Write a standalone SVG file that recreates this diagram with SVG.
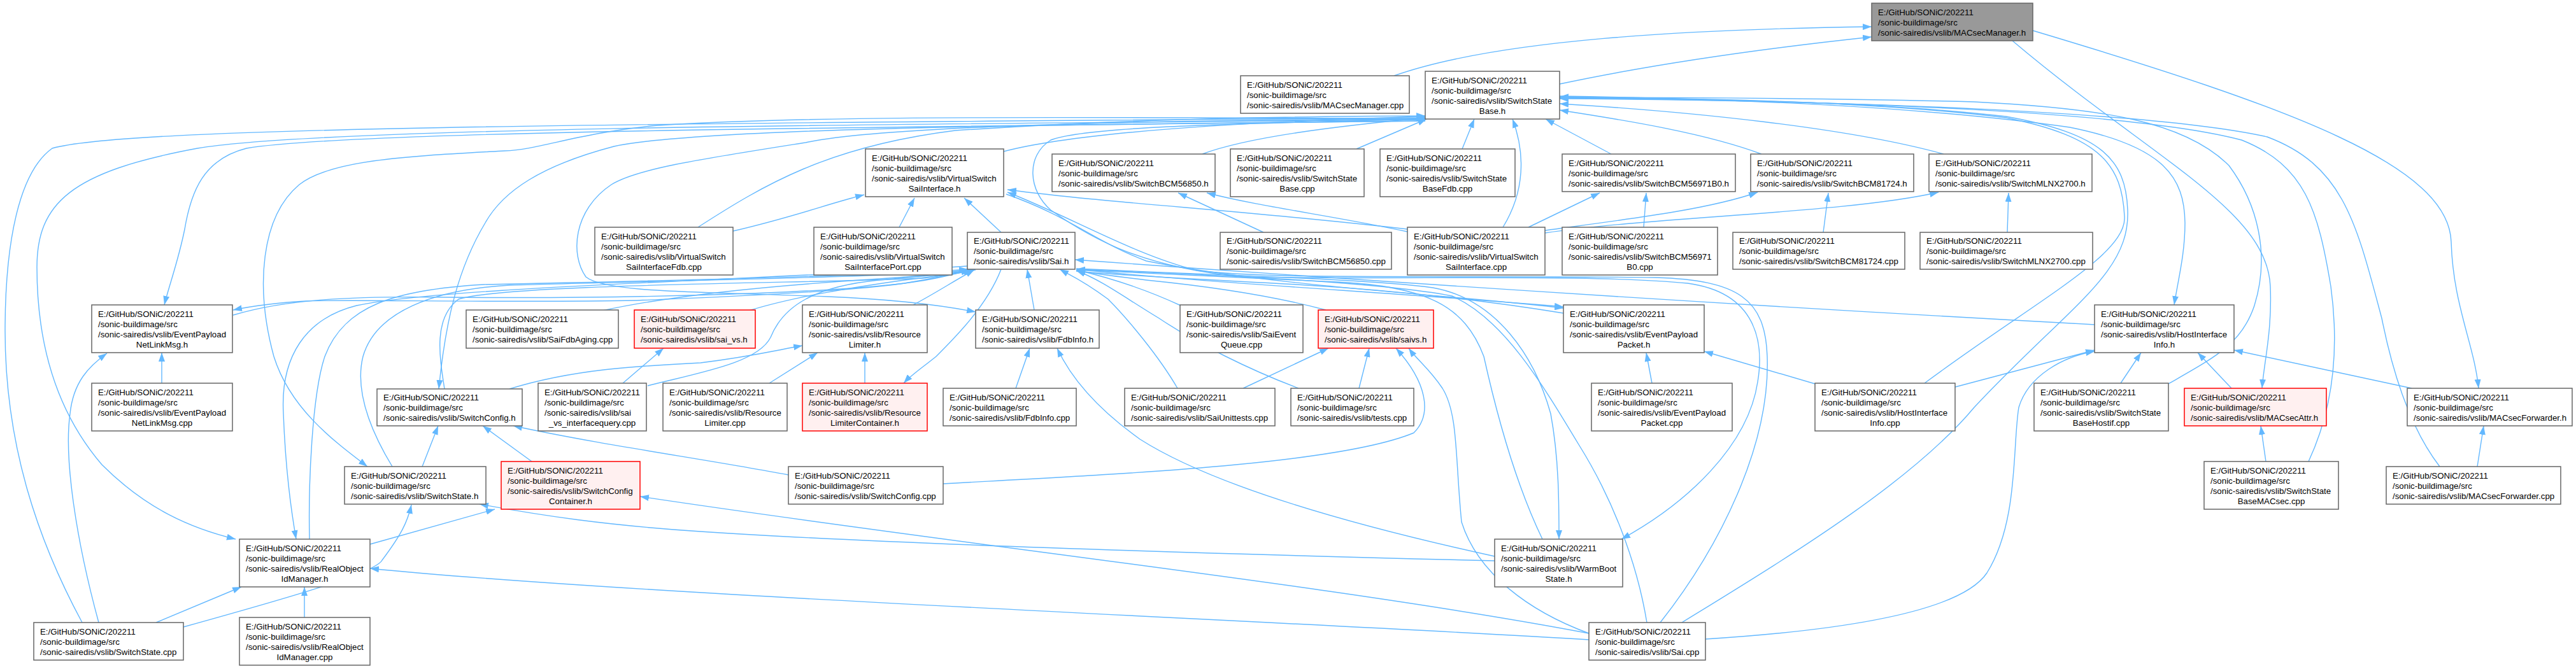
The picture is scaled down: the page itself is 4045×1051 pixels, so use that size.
<svg xmlns="http://www.w3.org/2000/svg" width="4045" height="1051" viewBox="0 0 4045 1051">
<style>
.node rect{fill:#ffffff;stroke:#666666;stroke-width:1.5}
.node.red rect{fill:#fff0f0;stroke:#ff0000}
.node.root rect{fill:#999999;stroke:#666666}
text{font-family:"Liberation Sans",Arial,Helvetica,sans-serif;font-size:13.3px;fill:#000000}
.c{text-anchor:middle}
.edges path{fill:none;stroke:#63b8ff;stroke-width:1.4;marker-end:url(#arr)}
</style>
<defs>
<marker id="arr" viewBox="0 0 14 10" refX="14" refY="5" markerWidth="14" markerHeight="10" markerUnits="userSpaceOnUse" orient="auto">
<path d="M0,0 L14,5 L0,10 z" fill="#63b8ff"/>
</marker>
</defs>
<rect width="4045" height="1051" fill="#ffffff"/>
<g id="edges" class="edges">
<path d="M2189,119 C2350,62 2650,46 2939,42"/>
<path d="M2449,132 C2600,100 2780,75 2939,58"/>
<path d="M3160,64 C3380,250 3560,330 3565,450 C3568,520 3555,570 3552,610"/>
<path d="M3192,48 C3600,170 3845,260 3849,380 C3852,480 3885,540 3892,610"/>
<path d="M3022,602 C3200,470 3340,400 3336,340 C3332,260 3300,215 3150,185 C2950,160 2700,155 2449,152"/>
<path d="M2641,978 C2800,880 3000,760 3100,640 C3250,480 3345,430 3341,330 C3338,250 3300,210 3150,183 C2950,160 2700,156 2449,153"/>
<path d="M2449,151 C2700,155 3000,165 3250,200 C3400,230 3430,280 3431,350 C3431,400 3420,440 3414,479"/>
<path d="M3405,603 C3480,560 3520,540 3540,480 C3565,400 3545,320 3500,260 C3430,190 3300,170 3100,160 C2900,155 2700,153 2449,153"/>
<path d="M3625,725 C3660,650 3675,560 3660,450 C3640,330 3620,260 3520,220 C3350,175 2900,158 2449,154"/>
<path d="M3831,733 C3790,680 3760,600 3740,500 C3700,350 3680,260 3560,215 C3380,175 2900,158 2449,155"/>
<path d="M2766,242 C2680,210 2560,190 2449,173"/>
<path d="M3052,242 C2900,200 2650,175 2449,163"/>
<path d="M2530,242 L2427,187"/>
<path d="M2360,357 C2395,300 2395,240 2375,187"/>
<path d="M2296,234 L2315,187"/>
<path d="M2130,234 L2240,187"/>
<path d="M1888,242 C1960,215 2100,198 2238,185"/>
<path d="M1576,238 C1700,205 2000,190 2238,183"/>
<path d="M1096,357 C1200,290 1300,230 1500,205 C1800,185 2050,183 2238,182"/>
<path d="M129,978 C60,850 8,700 8,520 C8,380 30,270 82,233 C200,200 900,195 2238,185"/>
<path d="M155,978 C120,850 100,720 110,650 C115,600 140,575 168,555"/>
<path d="M288,985 C450,940 590,900 600,880 C630,840 640,820 646,793"/>
<path d="M245,978 L379,922"/>
<path d="M2238,188 C1400,195 500,200 310,233 C110,270 58,320 58,420 C58,560 100,660 160,730 C230,800 300,830 370,847"/>
<path d="M2238,190 C1400,200 550,205 387,233 C320,250 300,300 290,360 C280,410 265,450 258,479"/>
<path d="M2238,190 C1700,195 1100,200 964,230 C850,260 790,300 762,350 C720,420 700,500 689,611"/>
<path d="M2238,186 C1700,185 1300,180 1033,197 C900,210 850,235 792,237 C650,245 520,250 470,290 C410,340 400,450 430,560 C455,640 520,690 577,733"/>
<path d="M2238,187 C1900,188 1400,195 1265,224 C1100,250 1000,265 960,290 C900,330 895,400 920,435 C950,460 1100,458 1300,466 C1400,470 1470,478 1532,490"/>
<path d="M2238,187 C1900,195 1700,200 1650,220 C1610,245 1615,300 1650,330 C1720,380 1800,420 1950,435 C2200,440 2500,430 2650,445 C2760,460 2770,540 2760,600 C2745,700 2650,790 2546,847"/>
<path d="M2607,978 C2700,860 2780,700 2775,560 C2772,470 2730,440 2600,436 C2300,432 2000,440 1880,425 C1780,400 1680,340 1582,302"/>
<path d="M2210,360 C1950,330 1750,320 1582,298"/>
<path d="M1412,357 L1436,311"/>
<path d="M1572,365 L1514,311"/>
<path d="M1151,363 C1250,340 1300,320 1357,306"/>
<path d="M1984,365 L1850,303"/>
<path d="M2210,364 C2100,340 1980,325 1895,303"/>
<path d="M2400,357 L2512,303"/>
<path d="M2581,357 L2585,303"/>
<path d="M2426,362 C2550,345 2680,330 2760,302"/>
<path d="M2863,365 L2871,303"/>
<path d="M2426,366 C2600,340 2900,335 3044,302"/>
<path d="M3152,365 L3154,303"/>
<path d="M946,488 C1050,465 1200,450 1350,440 C1430,435 1490,430 1525,424"/>
<path d="M1176,488 C1250,465 1350,450 1420,440 C1470,434 1500,430 1527,424"/>
<path d="M1017,606 C1100,585 1190,570 1210,530 C1230,480 1280,450 1380,440 C1450,434 1500,430 1528,424"/>
<path d="M1434,479 C1470,460 1500,440 1530,424"/>
<path d="M698,611 C690,560 680,500 720,470 C800,445 1300,445 1450,437 C1480,433 1505,430 1530,424"/>
<path d="M616,733 C590,690 555,620 570,560 C590,490 680,455 800,448 C1100,440 1400,435 1532,424"/>
<path d="M366,495 C450,470 550,465 700,467 C1000,470 1300,460 1420,445 C1470,437 1500,430 1523,424"/>
<path d="M1522,423 C1450,450 1300,460 1000,472 C800,476 550,470 480,473 C430,476 400,480 366,487"/>
<path d="M1519,418 C1200,440 700,450 560,480 C480,500 440,560 445,650 C448,730 455,790 465,847"/>
<path d="M486,847 C484,760 490,620 510,560 C540,480 620,455 760,447 C1100,440 1400,432 1520,423"/>
<path d="M1572,423 C1550,480 1500,530 1470,560 C1445,580 1430,590 1419,602"/>
<path d="M1624,487 L1613,423"/>
<path d="M1849,610 C1820,560 1770,500 1740,470 C1700,440 1680,432 1664,423"/>
<path d="M1854,480 C1800,455 1750,438 1690,424"/>
<path d="M2082,487 C2000,465 1900,450 1800,440 C1750,434 1720,430 1690,425"/>
<path d="M2039,610 C1960,580 1880,540 1820,500 C1770,470 1730,440 1690,425"/>
<path d="M3289,510 C2700,478 2200,445 1688,408"/>
<path d="M1690,423 C1900,445 2200,460 2455,482"/>
<path d="M1580,305 C1680,340 1720,380 1800,410 C2000,450 2300,465 2455,484"/>
<path d="M2455,492 C2350,475 2200,455 2000,445 C1850,437 1750,432 1690,426"/>
<path d="M1690,422 C1900,432 2150,438 2250,452 C2350,470 2410,560 2435,650 C2448,720 2448,790 2448,847"/>
<path d="M2422,847 C2380,760 2350,650 2330,560 C2300,480 2240,450 2100,443 C1950,436 1800,430 1690,424"/>
<path d="M2586,978 C2570,880 2530,780 2480,700 C2420,600 2360,500 2280,465 C2150,440 1850,430 1690,423"/>
<path d="M2495,995 C2400,960 2320,900 2295,820 C2285,720 2290,650 2265,610 C2245,580 2225,565 2212,547"/>
<path d="M2495,995 C2100,920 1500,855 1005,780"/>
<path d="M2495,1005 C2000,975 1000,935 581,893"/>
<path d="M2678,1004 C2900,990 3080,960 3120,900 C3170,820 3160,700 3170,640 C3185,590 3240,560 3289,552"/>
<path d="M1238,746 C1100,720 950,700 806,669"/>
<path d="M835,725 L758,669"/>
<path d="M663,733 L688,669"/>
<path d="M1481,760 C1750,745 2100,730 2220,680 C2250,650 2240,600 2192,547"/>
<path d="M581,855 L777,800"/>
<path d="M478,970 L478,922"/>
<path d="M254,602 L254,554"/>
<path d="M978,602 L1042,547"/>
<path d="M1208,602 L1284,554"/>
<path d="M1358,602 L1358,554"/>
<path d="M800,611 C900,580 1000,575 1100,570 C1180,560 1220,550 1260,543"/>
<path d="M1595,610 L1617,547"/>
<path d="M2347,874 C2100,820 1900,760 1790,690 C1720,640 1680,590 1660,547"/>
<path d="M2347,881 C1900,870 1400,855 1100,835 C950,825 850,810 753,792"/>
<path d="M1952,610 L2086,547"/>
<path d="M2134,610 L2150,547"/>
<path d="M2594,602 L2585,554"/>
<path d="M2850,603 L2676,552"/>
<path d="M3070,608 L3289,550"/>
<path d="M3330,602 L3362,554"/>
<path d="M3504,610 L3451,554"/>
<path d="M3787,610 L3508,550"/>
<path d="M3558,725 L3550,669"/>
<path d="M3890,733 L3900,669"/>
</g>
<g id="n_MACsecManager_h" class="node root"><rect x="2939" y="5" width="253" height="59"/><text><tspan x="2949" y="23.5">E:/GitHub/SONiC/202211</tspan><tspan x="2949" y="39.5">/sonic-buildimage/src</tspan><tspan x="2949" y="55.5">/sonic-sairedis/vslib/MACsecManager.h</tspan></text></g>
<g id="n_MACsecManager_cpp" class="node"><rect x="1948" y="119" width="265" height="59"/><text><tspan x="1958" y="137.5">E:/GitHub/SONiC/202211</tspan><tspan x="1958" y="153.5">/sonic-buildimage/src</tspan><tspan x="1958" y="169.5">/sonic-sairedis/vslib/MACsecManager.cpp</tspan></text></g>
<g id="n_SwitchStateBase_h" class="node"><rect x="2238" y="112" width="211" height="75"/><text><tspan x="2248" y="130.5">E:/GitHub/SONiC/202211</tspan><tspan x="2248" y="146.5">/sonic-buildimage/src</tspan><tspan x="2248" y="162.5">/sonic-sairedis/vslib/SwitchState</tspan><tspan class="c" x="2343.5" y="178.5">Base.h</tspan></text></g>
<g id="n_VirtualSwitchSaiInterface_h" class="node"><rect x="1359" y="234" width="217" height="75"/><text><tspan x="1369" y="252.5">E:/GitHub/SONiC/202211</tspan><tspan x="1369" y="268.5">/sonic-buildimage/src</tspan><tspan x="1369" y="284.5">/sonic-sairedis/vslib/VirtualSwitch</tspan><tspan class="c" x="1467.5" y="300.5">SaiInterface.h</tspan></text></g>
<g id="n_SwitchBCM56850_h" class="node"><rect x="1652" y="242" width="256" height="59"/><text><tspan x="1662" y="260.5">E:/GitHub/SONiC/202211</tspan><tspan x="1662" y="276.5">/sonic-buildimage/src</tspan><tspan x="1662" y="292.5">/sonic-sairedis/vslib/SwitchBCM56850.h</tspan></text></g>
<g id="n_SwitchStateBase_cpp" class="node"><rect x="1932" y="234" width="210" height="75"/><text><tspan x="1942" y="252.5">E:/GitHub/SONiC/202211</tspan><tspan x="1942" y="268.5">/sonic-buildimage/src</tspan><tspan x="1942" y="284.5">/sonic-sairedis/vslib/SwitchState</tspan><tspan class="c" x="2037" y="300.5">Base.cpp</tspan></text></g>
<g id="n_SwitchStateBaseFdb_cpp" class="node"><rect x="2167" y="234" width="212" height="75"/><text><tspan x="2177" y="252.5">E:/GitHub/SONiC/202211</tspan><tspan x="2177" y="268.5">/sonic-buildimage/src</tspan><tspan x="2177" y="284.5">/sonic-sairedis/vslib/SwitchState</tspan><tspan class="c" x="2273" y="300.5">BaseFdb.cpp</tspan></text></g>
<g id="n_SwitchBCM56971B0_h" class="node"><rect x="2453" y="242" width="272" height="59"/><text><tspan x="2463" y="260.5">E:/GitHub/SONiC/202211</tspan><tspan x="2463" y="276.5">/sonic-buildimage/src</tspan><tspan x="2463" y="292.5">/sonic-sairedis/vslib/SwitchBCM56971B0.h</tspan></text></g>
<g id="n_SwitchBCM81724_h" class="node"><rect x="2749" y="242" width="256" height="59"/><text><tspan x="2759" y="260.5">E:/GitHub/SONiC/202211</tspan><tspan x="2759" y="276.5">/sonic-buildimage/src</tspan><tspan x="2759" y="292.5">/sonic-sairedis/vslib/SwitchBCM81724.h</tspan></text></g>
<g id="n_SwitchMLNX2700_h" class="node"><rect x="3029" y="242" width="256" height="59"/><text><tspan x="3039" y="260.5">E:/GitHub/SONiC/202211</tspan><tspan x="3039" y="276.5">/sonic-buildimage/src</tspan><tspan x="3039" y="292.5">/sonic-sairedis/vslib/SwitchMLNX2700.h</tspan></text></g>
<g id="n_VirtualSwitchSaiInterfaceFdb_cpp" class="node"><rect x="934" y="357" width="217" height="75"/><text><tspan x="944" y="375.5">E:/GitHub/SONiC/202211</tspan><tspan x="944" y="391.5">/sonic-buildimage/src</tspan><tspan x="944" y="407.5">/sonic-sairedis/vslib/VirtualSwitch</tspan><tspan class="c" x="1042.5" y="423.5">SaiInterfaceFdb.cpp</tspan></text></g>
<g id="n_VirtualSwitchSaiInterfacePort_cpp" class="node"><rect x="1278" y="357" width="217" height="75"/><text><tspan x="1288" y="375.5">E:/GitHub/SONiC/202211</tspan><tspan x="1288" y="391.5">/sonic-buildimage/src</tspan><tspan x="1288" y="407.5">/sonic-sairedis/vslib/VirtualSwitch</tspan><tspan class="c" x="1386.5" y="423.5">SaiInterfacePort.cpp</tspan></text></g>
<g id="n_Sai_h" class="node"><rect x="1519" y="365" width="169" height="58"/><text><tspan x="1529" y="383">E:/GitHub/SONiC/202211</tspan><tspan x="1529" y="399">/sonic-buildimage/src</tspan><tspan x="1529" y="415">/sonic-sairedis/vslib/Sai.h</tspan></text></g>
<g id="n_SwitchBCM56850_cpp" class="node"><rect x="1916" y="365" width="269" height="58"/><text><tspan x="1926" y="383">E:/GitHub/SONiC/202211</tspan><tspan x="1926" y="399">/sonic-buildimage/src</tspan><tspan x="1926" y="415">/sonic-sairedis/vslib/SwitchBCM56850.cpp</tspan></text></g>
<g id="n_VirtualSwitchSaiInterface_cpp" class="node"><rect x="2210" y="357" width="216" height="75"/><text><tspan x="2220" y="375.5">E:/GitHub/SONiC/202211</tspan><tspan x="2220" y="391.5">/sonic-buildimage/src</tspan><tspan x="2220" y="407.5">/sonic-sairedis/vslib/VirtualSwitch</tspan><tspan class="c" x="2318" y="423.5">SaiInterface.cpp</tspan></text></g>
<g id="n_SwitchBCM56971B0_cpp" class="node"><rect x="2453" y="357" width="244" height="75"/><text><tspan x="2463" y="375.5">E:/GitHub/SONiC/202211</tspan><tspan x="2463" y="391.5">/sonic-buildimage/src</tspan><tspan x="2463" y="407.5">/sonic-sairedis/vslib/SwitchBCM56971</tspan><tspan class="c" x="2575" y="423.5">B0.cpp</tspan></text></g>
<g id="n_SwitchBCM81724_cpp" class="node"><rect x="2721" y="365" width="270" height="58"/><text><tspan x="2731" y="383">E:/GitHub/SONiC/202211</tspan><tspan x="2731" y="399">/sonic-buildimage/src</tspan><tspan x="2731" y="415">/sonic-sairedis/vslib/SwitchBCM81724.cpp</tspan></text></g>
<g id="n_SwitchMLNX2700_cpp" class="node"><rect x="3015" y="365" width="271" height="58"/><text><tspan x="3025" y="383">E:/GitHub/SONiC/202211</tspan><tspan x="3025" y="399">/sonic-buildimage/src</tspan><tspan x="3025" y="415">/sonic-sairedis/vslib/SwitchMLNX2700.cpp</tspan></text></g>
<g id="n_EventPayloadNetLinkMsg_h" class="node"><rect x="144" y="479" width="221" height="75"/><text><tspan x="154" y="497.5">E:/GitHub/SONiC/202211</tspan><tspan x="154" y="513.5">/sonic-buildimage/src</tspan><tspan x="154" y="529.5">/sonic-sairedis/vslib/EventPayload</tspan><tspan class="c" x="254.5" y="545.5">NetLinkMsg.h</tspan></text></g>
<g id="n_SaiFdbAging_cpp" class="node"><rect x="732" y="487" width="239" height="60"/><text><tspan x="742" y="506">E:/GitHub/SONiC/202211</tspan><tspan x="742" y="522">/sonic-buildimage/src</tspan><tspan x="742" y="538">/sonic-sairedis/vslib/SaiFdbAging.cpp</tspan></text></g>
<g id="n_sai_vs_h" class="node red"><rect x="996" y="487" width="190" height="60"/><text><tspan x="1006" y="506">E:/GitHub/SONiC/202211</tspan><tspan x="1006" y="522">/sonic-buildimage/src</tspan><tspan x="1006" y="538">/sonic-sairedis/vslib/sai_vs.h</tspan></text></g>
<g id="n_ResourceLimiter_h" class="node"><rect x="1260" y="479" width="196" height="75"/><text><tspan x="1270" y="497.5">E:/GitHub/SONiC/202211</tspan><tspan x="1270" y="513.5">/sonic-buildimage/src</tspan><tspan x="1270" y="529.5">/sonic-sairedis/vslib/Resource</tspan><tspan class="c" x="1358" y="545.5">Limiter.h</tspan></text></g>
<g id="n_FdbInfo_h" class="node"><rect x="1532" y="487" width="194" height="60"/><text><tspan x="1542" y="506">E:/GitHub/SONiC/202211</tspan><tspan x="1542" y="522">/sonic-buildimage/src</tspan><tspan x="1542" y="538">/sonic-sairedis/vslib/FdbInfo.h</tspan></text></g>
<g id="n_SaiEventQueue_cpp" class="node"><rect x="1853" y="479" width="193" height="75"/><text><tspan x="1863" y="497.5">E:/GitHub/SONiC/202211</tspan><tspan x="1863" y="513.5">/sonic-buildimage/src</tspan><tspan x="1863" y="529.5">/sonic-sairedis/vslib/SaiEvent</tspan><tspan class="c" x="1949.5" y="545.5">Queue.cpp</tspan></text></g>
<g id="n_saivs_h" class="node red"><rect x="2070" y="487" width="181" height="60"/><text><tspan x="2080" y="506">E:/GitHub/SONiC/202211</tspan><tspan x="2080" y="522">/sonic-buildimage/src</tspan><tspan x="2080" y="538">/sonic-sairedis/vslib/saivs.h</tspan></text></g>
<g id="n_EventPayloadPacket_h" class="node"><rect x="2455" y="479" width="221" height="75"/><text><tspan x="2465" y="497.5">E:/GitHub/SONiC/202211</tspan><tspan x="2465" y="513.5">/sonic-buildimage/src</tspan><tspan x="2465" y="529.5">/sonic-sairedis/vslib/EventPayload</tspan><tspan class="c" x="2565.5" y="545.5">Packet.h</tspan></text></g>
<g id="n_HostInterfaceInfo_h" class="node"><rect x="3289" y="479" width="219" height="75"/><text><tspan x="3299" y="497.5">E:/GitHub/SONiC/202211</tspan><tspan x="3299" y="513.5">/sonic-buildimage/src</tspan><tspan x="3299" y="529.5">/sonic-sairedis/vslib/HostInterface</tspan><tspan class="c" x="3398.5" y="545.5">Info.h</tspan></text></g>
<g id="n_EventPayloadNetLinkMsg_cpp" class="node"><rect x="144" y="602" width="221" height="75"/><text><tspan x="154" y="620.5">E:/GitHub/SONiC/202211</tspan><tspan x="154" y="636.5">/sonic-buildimage/src</tspan><tspan x="154" y="652.5">/sonic-sairedis/vslib/EventPayload</tspan><tspan class="c" x="254.5" y="668.5">NetLinkMsg.cpp</tspan></text></g>
<g id="n_SwitchConfig_h" class="node"><rect x="592" y="611" width="228" height="58"/><text><tspan x="602" y="629">E:/GitHub/SONiC/202211</tspan><tspan x="602" y="645">/sonic-buildimage/src</tspan><tspan x="602" y="661">/sonic-sairedis/vslib/SwitchConfig.h</tspan></text></g>
<g id="n_sai_vs_interfacequery_cpp" class="node"><rect x="845" y="602" width="170" height="75"/><text><tspan x="855" y="620.5">E:/GitHub/SONiC/202211</tspan><tspan x="855" y="636.5">/sonic-buildimage/src</tspan><tspan x="855" y="652.5">/sonic-sairedis/vslib/sai</tspan><tspan class="c" x="930" y="668.5">_vs_interfacequery.cpp</tspan></text></g>
<g id="n_ResourceLimiter_cpp" class="node"><rect x="1041" y="602" width="195" height="75"/><text><tspan x="1051" y="620.5">E:/GitHub/SONiC/202211</tspan><tspan x="1051" y="636.5">/sonic-buildimage/src</tspan><tspan x="1051" y="652.5">/sonic-sairedis/vslib/Resource</tspan><tspan class="c" x="1138.5" y="668.5">Limiter.cpp</tspan></text></g>
<g id="n_ResourceLimiterContainer_h" class="node red"><rect x="1260" y="602" width="196" height="75"/><text><tspan x="1270" y="620.5">E:/GitHub/SONiC/202211</tspan><tspan x="1270" y="636.5">/sonic-buildimage/src</tspan><tspan x="1270" y="652.5">/sonic-sairedis/vslib/Resource</tspan><tspan class="c" x="1358" y="668.5">LimiterContainer.h</tspan></text></g>
<g id="n_FdbInfo_cpp" class="node"><rect x="1481" y="610" width="209" height="59"/><text><tspan x="1491" y="628.5">E:/GitHub/SONiC/202211</tspan><tspan x="1491" y="644.5">/sonic-buildimage/src</tspan><tspan x="1491" y="660.5">/sonic-sairedis/vslib/FdbInfo.cpp</tspan></text></g>
<g id="n_SaiUnittests_cpp" class="node"><rect x="1766" y="610" width="236" height="59"/><text><tspan x="1776" y="628.5">E:/GitHub/SONiC/202211</tspan><tspan x="1776" y="644.5">/sonic-buildimage/src</tspan><tspan x="1776" y="660.5">/sonic-sairedis/vslib/SaiUnittests.cpp</tspan></text></g>
<g id="n_tests_cpp" class="node"><rect x="2027" y="610" width="193" height="59"/><text><tspan x="2037" y="628.5">E:/GitHub/SONiC/202211</tspan><tspan x="2037" y="644.5">/sonic-buildimage/src</tspan><tspan x="2037" y="660.5">/sonic-sairedis/vslib/tests.cpp</tspan></text></g>
<g id="n_EventPayloadPacket_cpp" class="node"><rect x="2499" y="602" width="221" height="75"/><text><tspan x="2509" y="620.5">E:/GitHub/SONiC/202211</tspan><tspan x="2509" y="636.5">/sonic-buildimage/src</tspan><tspan x="2509" y="652.5">/sonic-sairedis/vslib/EventPayload</tspan><tspan class="c" x="2609.5" y="668.5">Packet.cpp</tspan></text></g>
<g id="n_HostInterfaceInfo_cpp" class="node"><rect x="2850" y="602" width="220" height="75"/><text><tspan x="2860" y="620.5">E:/GitHub/SONiC/202211</tspan><tspan x="2860" y="636.5">/sonic-buildimage/src</tspan><tspan x="2860" y="652.5">/sonic-sairedis/vslib/HostInterface</tspan><tspan class="c" x="2960" y="668.5">Info.cpp</tspan></text></g>
<g id="n_SwitchStateBaseHostif_cpp" class="node"><rect x="3194" y="602" width="211" height="75"/><text><tspan x="3204" y="620.5">E:/GitHub/SONiC/202211</tspan><tspan x="3204" y="636.5">/sonic-buildimage/src</tspan><tspan x="3204" y="652.5">/sonic-sairedis/vslib/SwitchState</tspan><tspan class="c" x="3299.5" y="668.5">BaseHostif.cpp</tspan></text></g>
<g id="n_MACsecAttr_h" class="node red"><rect x="3430" y="610" width="223" height="59"/><text><tspan x="3440" y="628.5">E:/GitHub/SONiC/202211</tspan><tspan x="3440" y="644.5">/sonic-buildimage/src</tspan><tspan x="3440" y="660.5">/sonic-sairedis/vslib/MACsecAttr.h</tspan></text></g>
<g id="n_MACsecForwarder_h" class="node"><rect x="3780" y="610" width="259" height="59"/><text><tspan x="3790" y="628.5">E:/GitHub/SONiC/202211</tspan><tspan x="3790" y="644.5">/sonic-buildimage/src</tspan><tspan x="3790" y="660.5">/sonic-sairedis/vslib/MACsecForwarder.h</tspan></text></g>
<g id="n_SwitchState_h" class="node"><rect x="541" y="733" width="222" height="59"/><text><tspan x="551" y="751.5">E:/GitHub/SONiC/202211</tspan><tspan x="551" y="767.5">/sonic-buildimage/src</tspan><tspan x="551" y="783.5">/sonic-sairedis/vslib/SwitchState.h</tspan></text></g>
<g id="n_SwitchConfigContainer_h" class="node red"><rect x="787" y="725" width="218" height="75"/><text><tspan x="797" y="743.5">E:/GitHub/SONiC/202211</tspan><tspan x="797" y="759.5">/sonic-buildimage/src</tspan><tspan x="797" y="775.5">/sonic-sairedis/vslib/SwitchConfig</tspan><tspan class="c" x="896" y="791.5">Container.h</tspan></text></g>
<g id="n_SwitchConfig_cpp" class="node"><rect x="1238" y="733" width="243" height="59"/><text><tspan x="1248" y="751.5">E:/GitHub/SONiC/202211</tspan><tspan x="1248" y="767.5">/sonic-buildimage/src</tspan><tspan x="1248" y="783.5">/sonic-sairedis/vslib/SwitchConfig.cpp</tspan></text></g>
<g id="n_SwitchStateBaseMACsec_cpp" class="node"><rect x="3461" y="725" width="211" height="75"/><text><tspan x="3471" y="743.5">E:/GitHub/SONiC/202211</tspan><tspan x="3471" y="759.5">/sonic-buildimage/src</tspan><tspan x="3471" y="775.5">/sonic-sairedis/vslib/SwitchState</tspan><tspan class="c" x="3566.5" y="791.5">BaseMACsec.cpp</tspan></text></g>
<g id="n_MACsecForwarder_cpp" class="node"><rect x="3747" y="733" width="274" height="59"/><text><tspan x="3757" y="751.5">E:/GitHub/SONiC/202211</tspan><tspan x="3757" y="767.5">/sonic-buildimage/src</tspan><tspan x="3757" y="783.5">/sonic-sairedis/vslib/MACsecForwarder.cpp</tspan></text></g>
<g id="n_RealObjectIdManager_h" class="node"><rect x="376" y="847" width="205" height="75"/><text><tspan x="386" y="865.5">E:/GitHub/SONiC/202211</tspan><tspan x="386" y="881.5">/sonic-buildimage/src</tspan><tspan x="386" y="897.5">/sonic-sairedis/vslib/RealObject</tspan><tspan class="c" x="478.5" y="913.5">IdManager.h</tspan></text></g>
<g id="n_WarmBootState_h" class="node"><rect x="2347" y="847" width="201" height="75"/><text><tspan x="2357" y="865.5">E:/GitHub/SONiC/202211</tspan><tspan x="2357" y="881.5">/sonic-buildimage/src</tspan><tspan x="2357" y="897.5">/sonic-sairedis/vslib/WarmBoot</tspan><tspan class="c" x="2447.5" y="913.5">State.h</tspan></text></g>
<g id="n_SwitchState_cpp" class="node"><rect x="53" y="978" width="235" height="59"/><text><tspan x="63" y="996.5">E:/GitHub/SONiC/202211</tspan><tspan x="63" y="1012.5">/sonic-buildimage/src</tspan><tspan x="63" y="1028.5">/sonic-sairedis/vslib/SwitchState.cpp</tspan></text></g>
<g id="n_RealObjectIdManager_cpp" class="node"><rect x="376" y="970" width="205" height="75"/><text><tspan x="386" y="988.5">E:/GitHub/SONiC/202211</tspan><tspan x="386" y="1004.5">/sonic-buildimage/src</tspan><tspan x="386" y="1020.5">/sonic-sairedis/vslib/RealObject</tspan><tspan class="c" x="478.5" y="1036.5">IdManager.cpp</tspan></text></g>
<g id="n_Sai_cpp" class="node"><rect x="2495" y="978" width="183" height="59"/><text><tspan x="2505" y="996.5">E:/GitHub/SONiC/202211</tspan><tspan x="2505" y="1012.5">/sonic-buildimage/src</tspan><tspan x="2505" y="1028.5">/sonic-sairedis/vslib/Sai.cpp</tspan></text></g>
</svg>
